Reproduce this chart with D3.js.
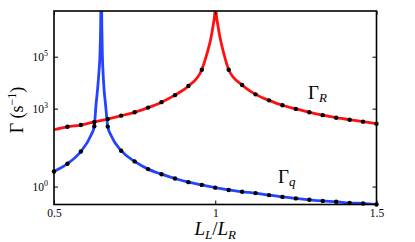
<!DOCTYPE html>
<html><head><meta charset="utf-8">
<script src="https://cdn.jsdelivr.net/npm/d3@7"></script>
<style>
html,body{margin:0;padding:0;background:#fff;}
svg{display:block;}
svg text{font-family:"Liberation Serif","DejaVu Serif","Times New Roman",serif !important;fill:#000;}
</style></head>
<body>
<svg id="chart" width="415" height="242"></svg>
<script>
// ---- data ----
const ratioL = [0.5, 0.5417, 0.5833, 0.625, 0.6667, 0.7083, 0.75, 0.7917, 0.8333, 0.875, 0.9167, 0.9583, 1.0,
                1.0417, 1.0833, 1.125, 1.1667, 1.2083, 1.25, 1.2917, 1.3333, 1.375, 1.4167, 1.4583, 1.5];
const gammaRDots = [null, 200, 234, 309, 398, 537, 724, 1096, 1778, 3311, 7413, 31600, null,
                    31600, 8128, 3548, 2089, 1349, 977, 724, 562, 447, 372, 316, 263];
const gammaQDots = [3.8, 7.6, 22.4, 209, 204, 24, 9.3, 4.7, 3.0, 2.04, 1.48, 1.16, 0.91,
                    0.74, 0.63, 0.56, 0.47, 0.40, 0.35, 0.31, 0.28, 0.26, 0.234, 0.224, 0.204];
// extra curve points (line only, near the resonances)
const gammaRExtraL = [0.5, 0.9732, 0.9865, 0.9937, 0.999, 1.0005, 1.0025, 1.008, 1.0153, 1.0277];
const gammaRExtra  = [155, 1.17e5, 5.1e5, 1.66e6, 5.4e6, 1e8, 5.4e6, 1.66e6, 5.1e5, 1.17e5];
const gammaQExtraL = [0.6147, 0.6302, 0.6354, 0.6394, 0.6425, 0.6447, 0.6465, 0.6483, 0.650, 0.652, 0.655, 0.660, 0.6766];
const gammaQExtra  = [95, 1380, 6030, 26300, 1.17e5, 1.5e6, 1e8, 1.5e6, 1.17e5, 26300, 6030, 1380, 95];
const xTicks = [0.5, 1, 1.5];
const xTickLabels = ["0.5", "1", "1.5"];
const yTicks = [1, 1e3, 1e5];
const yTickExp = ["0", "3", "5"];
const xDomain = [0.5, 1.5];
const yDomain = [0.204, 5.75e6];

// ---- layout ----
const W = 415, H = 242;
const plot = {left: 54, right: 376.5, top: 11, bottom: 204.5};
const svg = d3.select("#chart");
const x = d3.scaleLinear().domain(xDomain).range([plot.left, plot.right]);
const y = d3.scaleLog().domain(yDomain).range([plot.bottom, plot.top]);

svg.append("defs").append("clipPath").attr("id", "clip")
  .append("rect").attr("x", plot.left).attr("y", plot.top)
  .attr("width", plot.right - plot.left).attr("height", plot.bottom - plot.top);

function series(dotVals, extraL, extraV) {
  const pts = [];
  ratioL.forEach((l, i) => { if (dotVals[i] != null) pts.push([l, dotVals[i]]); });
  extraL.forEach((l, i) => pts.push([l, extraV[i]]));
  pts.sort((a, b) => a[0] - b[0]);
  return pts;
}
const redPts = series(gammaRDots, gammaRExtraL, gammaRExtra);
const bluePts = series(gammaQDots, gammaQExtraL, gammaQExtra);

const line = d3.line().x(d => x(d[0])).y(d => y(d[1])).curve(d3.curveMonotoneX);
const g = svg.append("g").attr("clip-path", "url(#clip)");
g.append("path").datum(redPts).attr("d", line)
  .attr("fill", "none").attr("stroke", "#ff1010").attr("stroke-width", 2.8);
g.append("path").datum(bluePts).attr("d", line)
  .attr("fill", "none").attr("stroke", "#2444ff").attr("stroke-width", 2.8);

const dots = svg.append("g");
function drawDots(vals) {
  dots.selectAll(null).data(ratioL.map((l, i) => [l, vals[i]]).filter(d => d[1] != null))
    .enter().append("circle")
    .attr("cx", d => x(d[0])).attr("cy", d => y(d[1])).attr("r", 2.2).attr("fill", "#000");
}
drawDots(gammaRDots);
drawDots(gammaQDots);

// ---- axes (ticks inward on all four sides) ----
const axStyle = sel => {
  sel.attr("font-family", null);
  sel.select(".domain").remove();
  sel.selectAll(".tick line").attr("stroke", "#000").attr("stroke-width", 1);
};
svg.append("g").attr("transform", `translate(0,${plot.bottom})`)
  .call(d3.axisBottom(x).tickValues(xTicks).tickFormat((d, i) => xTickLabels[i]).tickSizeInner(-4).tickSizeOuter(0).tickPadding(4))
  .call(axStyle)
  .call(s => s.selectAll("text").attr("font-size", 11.5));
svg.append("g").attr("transform", `translate(0,${plot.top})`)
  .call(d3.axisTop(x).tickValues(xTicks).tickFormat("").tickSizeInner(-4).tickSizeOuter(0))
  .call(axStyle);
svg.append("g").attr("transform", `translate(${plot.left},0)`)
  .call(d3.axisLeft(y).tickValues(yTicks).tickFormat("").tickSizeInner(-4).tickSizeOuter(0))
  .call(axStyle);
svg.append("g").attr("transform", `translate(${plot.right},0)`)
  .call(d3.axisRight(y).tickValues(yTicks).tickFormat("").tickSizeInner(-4).tickSizeOuter(0))
  .call(axStyle);
yTicks.forEach((v, i) => {
  const t = svg.append("text").attr("x", plot.left - 6).attr("y", y(v) + 4)
    .attr("text-anchor", "end").attr("font-size", 11.5);
  t.append("tspan").text("10");
  t.append("tspan").attr("dy", -5).attr("font-size", 8).text(yTickExp[i]);
});

// frame
svg.append("rect").attr("x", plot.left).attr("y", plot.top)
  .attr("width", plot.right - plot.left).attr("height", plot.bottom - plot.top)
  .attr("fill", "none").attr("stroke", "#000").attr("stroke-width", 1.6);

// ---- axis titles ----
const xt = svg.append("text").attr("x", (plot.left + plot.right) / 2).attr("y", 235)
  .attr("text-anchor", "middle").attr("font-size", 19).attr("font-style", "italic");
xt.append("tspan").text("L");
xt.append("tspan").attr("font-size", 13).attr("dy", 4).text("L");
xt.append("tspan").attr("dy", -4).attr("font-style", "normal").text("/");
xt.append("tspan").text("L");
xt.append("tspan").attr("font-size", 13).attr("dy", 4).text("R");

const yt = svg.append("text").attr("transform", "translate(23,110) rotate(-90)")
  .attr("text-anchor", "middle").attr("font-size", 18);
yt.append("tspan").text("Γ (s");
yt.append("tspan").attr("font-size", 12).attr("dy", -7).text("−1");
yt.append("tspan").attr("dy", 7).text(")");

// ---- curve labels ----
const lr = svg.append("text").attr("x", 308).attr("y", 99).attr("font-size", 19);
lr.append("tspan").text("Γ");
lr.append("tspan").attr("font-size", 13).attr("font-style", "italic").attr("dy", 3).text("R");
const lq = svg.append("text").attr("x", 278).attr("y", 183).attr("font-size", 19);
lq.append("tspan").text("Γ");
lq.append("tspan").attr("font-size", 13).attr("font-style", "italic").attr("dy", 3).text("q");
</script>
</body></html>
